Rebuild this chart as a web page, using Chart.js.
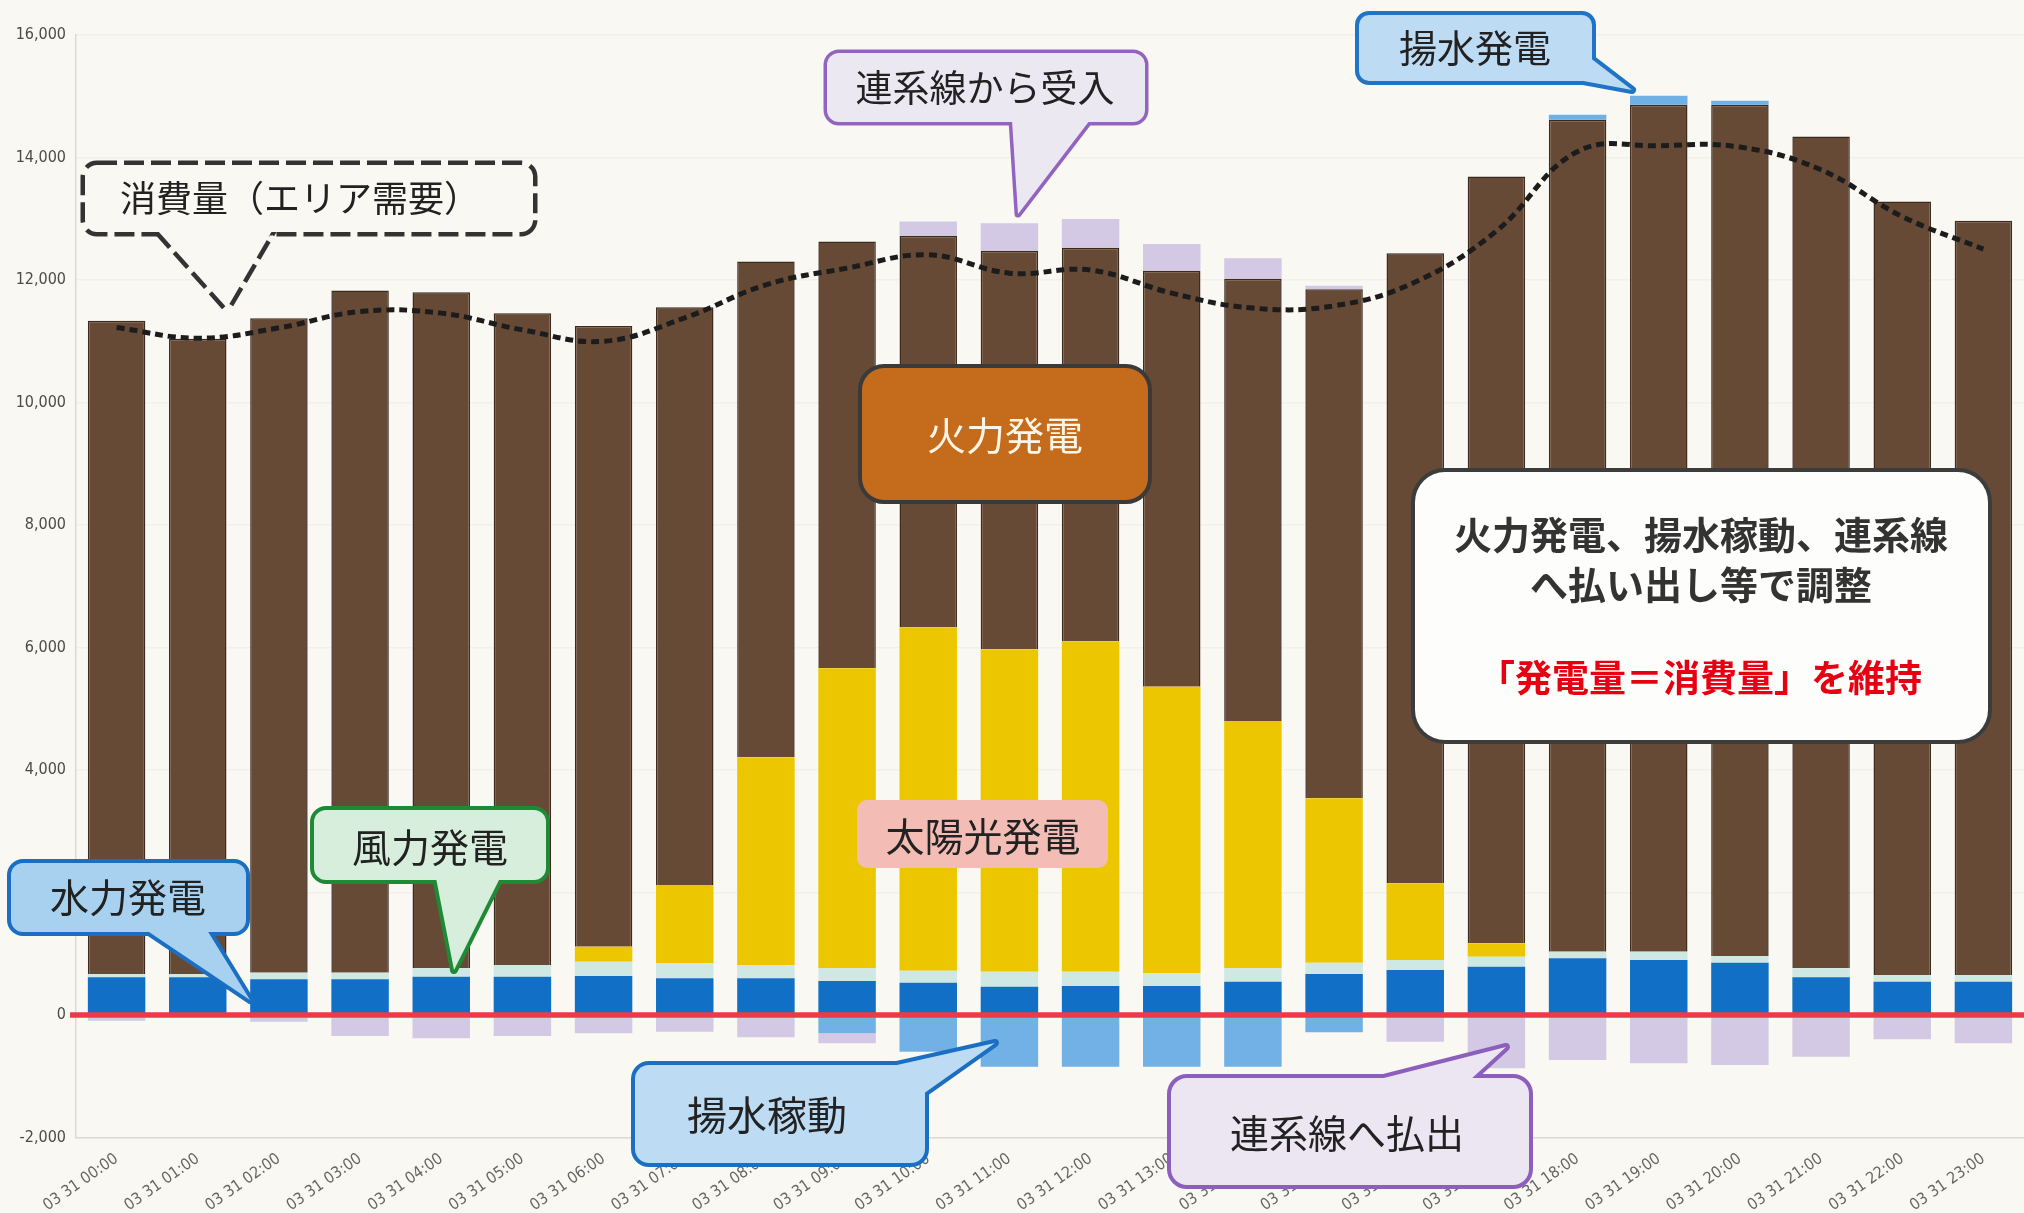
<!DOCTYPE html>
<html>
<head>
<meta charset="utf-8">
<script src="https://cdn.jsdelivr.net/npm/chart.js@4.4.1/dist/chart.umd.min.js"></script>
<style>
  html, body { margin: 0; padding: 0; background: #faf8f3; }
  #wrap { width: 2024px; height: 1213px; position: relative; }
</style>
</head>
<body>
<div id="wrap"><canvas id="c"></canvas></div>
<script>
// Hourly supply/demand balance for one day (MW)
const hours = [
  '03 31 00:00', '03 31 01:00', '03 31 02:00', '03 31 03:00', '03 31 04:00', '03 31 05:00',
  '03 31 06:00', '03 31 07:00', '03 31 08:00', '03 31 09:00', '03 31 10:00', '03 31 11:00',
  '03 31 12:00', '03 31 13:00', '03 31 14:00', '03 31 15:00', '03 31 16:00', '03 31 17:00',
  '03 31 18:00', '03 31 19:00', '03 31 20:00', '03 31 21:00', '03 31 22:00', '03 31 23:00'
];

const hydro = [616, 616, 583, 583, 626, 626, 637, 599, 599, 555, 528, 462,
               474, 474, 544, 669, 735, 789, 925, 898, 854, 616, 544, 544];
const wind = [53, 53, 108, 108, 136, 191, 233, 245, 218, 207, 196, 245,
              233, 207, 218, 185, 163, 163, 109, 136, 109, 146, 109, 109];
const solar = [0, 0, 0, 0, 0, 0, 245, 1279, 3391, 4899, 5601, 5265,
               5389, 4680, 4039, 2685, 1253, 219, 0, 0, 0, 0, 0, 0];
const thermal = [10664, 10370, 10686, 11137, 11040, 10642, 10136, 9434, 8094, 6967, 6396, 6504,
                 6429, 6789, 7218, 8312, 10287, 12519, 13581, 13826, 13897, 13581, 12628, 12313];
const pumpedGen = [0, 0, 0, 0, 0, 0, 0, 0, 0, 0, 0, 0,
                   0, 0, 0, 0, 0, 0, 82, 147, 66, 0, 0, 0];
const tieImport = [0, 0, 0, 0, 0, 0, 0, 0, 0, 0, 234, 452,
                   469, 436, 338, 54, 0, 0, 0, 0, 0, 0, 0, 0];
const pumping = [0, 0, 0, 0, 0, 0, 0, 0, 0, -299, -599, -844,
                 -844, -844, -844, -283, 0, 0, 0, 0, 0, 0, 0, 0];
const tieExport = [-93, 0, -109, -343, -381, -343, -299, -272, -365, -164, 0, 0,
                   0, 0, 0, 0, -436, -871, -735, -789, -817, -681, -397, -463];
const demand = [11224, 11050, 11219, 11485, 11459, 11186, 11000, 11382, 11921, 12194, 12411, 12112,
                12162, 11786, 11541, 11578, 11966, 12800, 14098, 14191, 14170, 13799, 13036, 12504];

const yTicks = [-2000, 0, 2000, 4000, 6000, 8000, 10000, 12000, 14000, 16000];

const W = 2024, H = 1213;
const canvas = document.getElementById('c');
canvas.width = W; canvas.height = H;
canvas.style.width = W + 'px'; canvas.style.height = H + 'px';

const BG = '#faf8f3';
const JP = '"Noto Sans CJK JP", "Noto Sans CJK SC", sans-serif';
const NARROW = '"Liberation Sans Narrow", "Arial Narrow", "DejaVu Sans Condensed", sans-serif';

// Speech-bubble callouts drawn on top of the chart
const callouts = [
  { x: 85, y: 165, w: 448, h: 67, r: 12, fill: BG, stroke: '#333', lw: 4.5, dash: [20, 7],
    tail: [[158, 231], [272, 231], [227, 308]],
    text: [{ s: '消費量（エリア需要）', x: 300, y: 198, size: 36, color: '#222' }] },
  { x: 827, y: 53, w: 318, h: 69, r: 12, fill: '#ece8f1', stroke: '#9264c0', lw: 3.5,
    tail: [[1012, 120], [1090, 120], [1018, 214]],
    text: [{ s: '連系線から受入', x: 985, y: 88, size: 37, color: '#222' }] },
  { x: 1359, y: 15, w: 233, h: 66, r: 10, fill: '#bddcf3', stroke: '#1f74c6', lw: 4,
    tail: [[1572, 44], [1578, 80], [1632, 90]],
    text: [{ s: '揚水発電', x: 1475, y: 48, size: 38, color: '#222' }] },
  { x: 862, y: 368, w: 286, h: 132, r: 22, fill: '#c46b1c', stroke: '#3a3a3a', lw: 4,
    text: [{ s: '火力発電', x: 1005, y: 435, size: 39, color: '#fff6e8' }] },
  { x: 857, y: 800, w: 251, h: 68, r: 10, fill: '#f3bdb6', stroke: null, lw: 0,
    text: [{ s: '太陽光発電', x: 983, y: 836, size: 39, color: '#222' }] },
  { x: 314, y: 810, w: 232, h: 70, r: 12, fill: '#d7eedd', stroke: '#1e8a35', lw: 4,
    tail: [[436, 878], [500, 878], [454, 970]],
    text: [{ s: '風力発電', x: 430, y: 847, size: 39, color: '#222' }] },
  { x: 11, y: 863, w: 235, h: 69, r: 12, fill: '#a8d1f0', stroke: '#1a6fc2', lw: 4,
    tail: [[146, 930], [207, 930], [250, 1000]],
    text: [{ s: '水力発電', x: 128, y: 897, size: 39, color: '#222' }] },
  { x: 635, y: 1065, w: 290, h: 98, r: 14, fill: '#bddcf3', stroke: '#1a6fc2', lw: 4,
    tail: [[888, 1067], [923, 1094], [995, 1043]],
    text: [{ s: '揚水稼動', x: 767, y: 1115, size: 40, color: '#222' }] },
  { x: 1171, y: 1078, w: 358, h: 107, r: 16, fill: '#ece6f2', stroke: '#8d5fbd', lw: 4,
    tail: [[1376, 1080], [1470, 1080], [1506, 1047]],
    text: [{ s: '連系線へ払出', x: 1347, y: 1133, size: 39, color: '#222' }] },
  { x: 1415, y: 472, w: 573, h: 268, r: 30, fill: '#fdfdfb', stroke: '#3c3c3c', lw: 4,
    text: [
      { s: '火力発電、揚水稼動、連系線', x: 1701, y: 535, size: 38, color: '#333', bold: true },
      { s: 'へ払い出し等で調整', x: 1701, y: 585, size: 38, color: '#333', bold: true },
      { s: '「発電量＝消費量」を維持', x: 1700, y: 678, size: 37, color: '#e60012', bold: true }
    ] }
];

function drawCallout(ctx, o) {
  ctx.save();
  const rect = new Path2D();
  rect.roundRect(o.x, o.y, o.w, o.h, o.r);
  let tail = null;
  if (o.tail) {
    tail = new Path2D();
    tail.moveTo(o.tail[0][0], o.tail[0][1]);
    tail.lineTo(o.tail[2][0], o.tail[2][1]);
    tail.lineTo(o.tail[1][0], o.tail[1][1]);
    tail.closePath();
  }
  if (o.stroke) {
    // stroke at double width, then fill over the inner half so the outline wraps the union
    ctx.lineJoin = 'round';
    ctx.lineWidth = o.lw * 2;
    ctx.strokeStyle = o.stroke;
    if (o.dash) ctx.setLineDash(o.dash);
    ctx.stroke(rect);
    if (tail) ctx.stroke(tail);
    ctx.setLineDash([]);
  }
  ctx.fillStyle = o.fill;
  ctx.fill(rect);
  if (tail) ctx.fill(tail);
  ctx.textAlign = 'center';
  ctx.textBaseline = 'middle';
  for (const t of o.text) {
    ctx.font = (t.bold ? '700 ' : '400 ') + t.size + 'px ' + JP;
    ctx.fillStyle = t.color;
    ctx.fillText(t.s, t.x, t.y);
  }
  ctx.restore();
}

const paperPlugin = {
  id: 'paper',
  beforeDraw(chart) {
    const ctx = chart.ctx;
    ctx.save();
    ctx.fillStyle = BG;
    ctx.fillRect(0, 0, chart.width, chart.height);
    ctx.restore();
  },
  afterDatasetsDraw(chart) {
    // red zero line over the bars
    const ctx = chart.ctx;
    const y0 = chart.scales.y.getPixelForValue(0);
    ctx.save();
    ctx.strokeStyle = '#ec3a48';
    ctx.lineWidth = 5.5;
    ctx.beginPath();
    ctx.moveTo(chart.chartArea.left - 6, y0);
    ctx.lineTo(chart.width, y0);
    ctx.stroke();
    ctx.restore();
  },
  afterDraw(chart) {
    for (const o of callouts) drawCallout(chart.ctx, o);
  }
};

function barSet(label, data, color, extra) {
  return Object.assign({
    type: 'bar', label, data, backgroundColor: color, borderWidth: 0,
    stack: 'supply', order: 1, barPercentage: 0.708, categoryPercentage: 1.0
  }, extra || {});
}

new Chart(canvas, {
  data: {
    labels: hours,
    datasets: [
      {
        type: 'line', label: '消費量（エリア需要）', data: demand, stack: 'demand', order: 0,
        borderColor: '#1c1c1c', borderWidth: 5, borderDash: [8, 5], borderCapStyle: 'butt',
        pointRadius: 0, tension: 0.4, fill: false
      },
      barSet('水力発電', hydro, '#1170c6'),
      barSet('風力発電', wind, '#cfe8e3'),
      barSet('太陽光発電', solar, '#ecc700'),
      barSet('火力発電', thermal, '#674a35', {
        borderWidth: { top: 1.5, left: 1.5, right: 1.5, bottom: 0 },
        borderColor: '#3b2a1d', borderSkipped: false
      }),
      barSet('揚水発電', pumpedGen, '#6fb0e6'),
      barSet('連系線から受入', tieImport, '#d3c9e5'),
      barSet('揚水稼動', pumping, '#72b1e6'),
      barSet('連系線へ払出', tieExport, '#d3c9e5')
    ]
  },
  options: {
    responsive: false,
    animation: false,
    events: [],
    layout: { padding: { top: 35, right: 0, bottom: 0, left: 0 } },
    plugins: { legend: { display: false }, tooltip: { enabled: false } },
    scales: {
      x: {
        stacked: true,
        grid: { display: false, drawTicks: false },
        border: { display: false },
        ticks: {
          autoSkip: false, minRotation: 35, maxRotation: 35, padding: 12,
          color: '#666', font: { family: NARROW, size: 16 }
        },
        afterFit(scale) { scale.height = 75.5; }
      },
      y: {
        stacked: true,
        min: -2000, max: 16000,
        afterBuildTicks(scale) { scale.ticks = yTicks.map(v => ({ value: v })); },
        grid: {
          drawTicks: false,
          lineWidth: 1.5,
          color: ctx => ctx.tick && ctx.tick.value === -2000 ? 'rgba(0,0,0,0.13)' : 'rgba(0,0,0,0.03)'
        },
        border: { display: true, color: 'rgba(0,0,0,0.12)', width: 1.5 },
        ticks: {
          padding: 10, color: '#4a4a4a', font: { family: NARROW, size: 16 },
          callback: v => v.toLocaleString('en-US')
        },
        afterFit(scale) { scale.width = 76; }
      }
    }
  },
  plugins: [paperPlugin]
});
</script>
</body>
</html>
